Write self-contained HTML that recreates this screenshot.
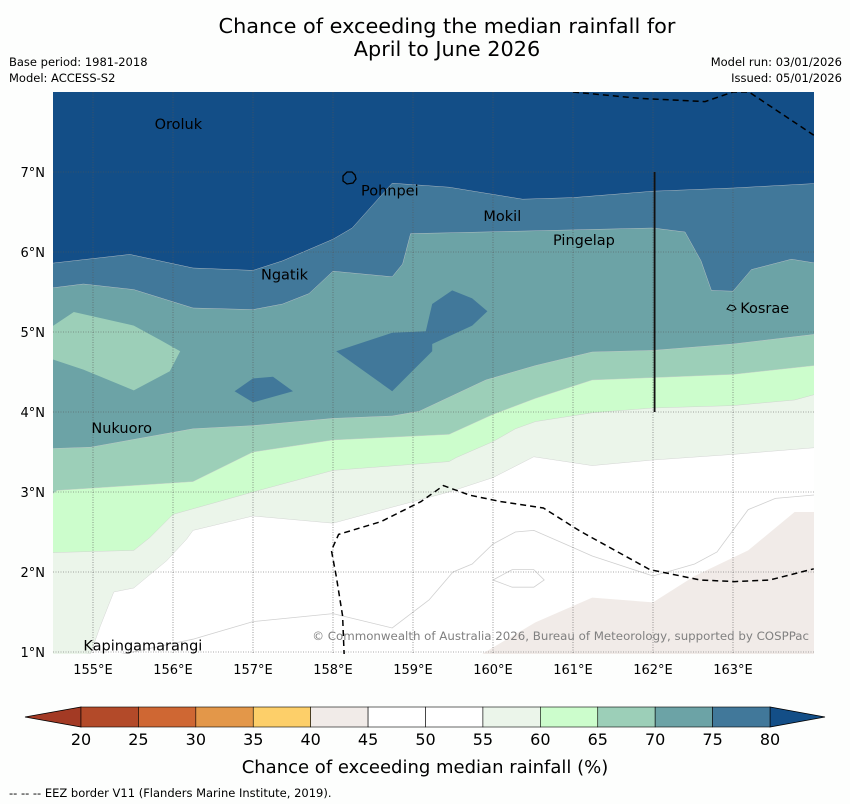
<!DOCTYPE html>
<html><head><meta charset="utf-8"><style>
body{margin:0;background:#fdfefd;}
svg{display:block;font-family:"DejaVu Sans","Liberation Sans",sans-serif;}
</style></head><body>
<svg id="chart" width="850" height="804" viewBox="0 0 850 804" xmlns="http://www.w3.org/2000/svg">
<rect width="850" height="804" fill="#fdfefd"/>
<text x="447" y="33" text-anchor="middle" font-size="20.8" fill="#000">Chance of exceeding the median rainfall for</text>
<text x="447" y="56" text-anchor="middle" font-size="20.8" fill="#000">April to June 2026</text>
<text x="9" y="66" font-size="11.5">Base period: 1981-2018</text>
<text x="9" y="82" font-size="11.5">Model: ACCESS-S2</text>
<text x="842" y="66" font-size="11.5" text-anchor="end">Model run: 03/01/2026</text>
<text x="842" y="82" font-size="11.5" text-anchor="end">Issued: 05/01/2026</text>
<defs><clipPath id="mapclip"><rect x="53" y="92" width="761" height="562"/></clipPath></defs>
<g id="map" clip-path="url(#mapclip)"></g>
<g id="axes"></g>
<g id="cbar"></g>
<text x="425" y="773" text-anchor="middle" font-size="18">Chance of exceeding median rainfall (%)</text>
<text x="9" y="797" font-size="11.5">--  --  -- EEZ border V11 (Flanders Marine Institute, 2019).</text>
</svg>
<script>
// ---- data ----
const lonTicks=[155,156,157,158,159,160,161,162,163];
const latTicks=[1,2,3,4,5,6,7];
const cbLevels=[20,25,30,35,40,45,50,55,60,65,70,75,80];
const cbColors=["#b34a29","#cf6733","#e39749","#fdcf69","#f1ebe8","#ffffff","#ffffff","#ebf5ea","#ccfdcc","#9ccfb8","#6ca3a6","#41789a"];
const lowColor="#a33a24", highColor="#134e87";
const b55=[[154.4,0.9],[154.97,0.98],[155.09,1.32],[155.26,1.75],[155.51,1.8],[155.92,2.14],[156.17,2.41],[156.25,2.52],[157.0,2.7],[158.0,2.61],[158.74,2.81],[159.45,3.0],[160.0,3.18],[160.51,3.44],[161.24,3.33],[162.0,3.4],[163.0,3.47],[164.1,3.56]];
const b60=[[154.4,2.24],[155.51,2.27],[155.71,2.43],[156.0,2.72],[157.0,3.0],[158.0,3.27],[159.45,3.38],[159.54,3.43],[160.0,3.63],[160.28,3.79],[160.53,3.88],[161.24,3.99],[162.0,4.05],[163.0,4.08],[163.77,4.15],[164.1,4.24]];
const b65=[[154.4,2.9],[154.55,3.02],[156.25,3.13],[157.0,3.5],[158.0,3.65],[159.45,3.72],[160.0,3.97],[160.53,4.17],[161.24,4.4],[162.0,4.43],[163.0,4.47],[164.1,4.59]];
const b70=[[154.4,3.54],[154.97,3.56],[156.25,3.79],[157.0,3.83],[158.0,3.92],[158.74,3.95],[159.08,4.01],[159.91,4.4],[160.53,4.58],[161.24,4.75],[162.0,4.77],[163.0,4.85],[164.1,4.98]];
const b75=[[154.4,5.54],[154.88,5.6],[155.51,5.53],[156.25,5.3],[157.0,5.28],[157.37,5.35],[157.7,5.48],[158.0,5.76],[158.74,5.69],[158.87,5.85],[158.97,6.23],[159.45,6.24],[162.0,6.3],[162.4,6.25],[162.6,5.89],[162.73,5.52],[163.0,5.51],[163.23,5.78],[163.73,5.91],[164.1,5.85]];
const b80=[[154.4,5.85],[155.46,5.97],[156.25,5.8],[157.0,5.77],[157.37,5.89],[158.0,6.16],[158.24,6.3],[158.74,6.86],[159.45,6.81],[160.37,6.66],[161.0,6.68],[162.0,6.76],[163.0,6.8],[164.1,6.86]];
const patch40=[[159.87,0.9],[159.87,0.98],[160.53,1.37],[161.24,1.68],[162.0,1.62],[162.52,1.95],[163.19,2.27],[163.77,2.75],[164.1,2.75],[164.1,0.9]];
const patch65=[[154.4,5.01],[154.76,5.25],[155.51,5.08],[155.84,4.9],[156.09,4.76],[155.96,4.51],[155.51,4.27],[154.88,4.53],[154.4,4.69]];
const patch75a=[[156.77,4.26],[157.0,4.42],[157.25,4.44],[157.5,4.26],[157.0,4.12]];
const patch75b=[[158.04,4.76],[158.74,4.99],[159.16,5.01],[159.24,5.35],[159.49,5.52],[159.74,5.42],[159.93,5.26],[159.74,5.08],[159.24,4.85],[159.24,4.76],[159.08,4.6],[158.74,4.26]];
const line50=[[155.0,0.9],[155.5,1.0],[156.25,1.16],[157.0,1.38],[158.0,1.48],[158.74,1.3],[159.2,1.65],[159.5,2.0],[159.74,2.1],[160.0,2.35],[160.28,2.5],[160.51,2.52],[160.9,2.35],[161.24,2.2],[162.0,1.95],[162.52,2.1],[162.8,2.25],[163.19,2.78],[163.53,2.92],[164.1,2.97]];
const oval50=[[160.0,1.9],[160.24,2.03],[160.51,2.03],[160.64,1.9],[160.51,1.81],[160.24,1.81]];
const eezSouth=[[158.14,0.95],[158.12,1.45],[158.04,1.95],[157.98,2.27],[158.07,2.47],[158.6,2.63],[159.1,2.88],[159.38,3.08],[159.71,2.96],[160.1,2.88],[160.63,2.8],[161.09,2.51],[161.96,2.03],[162.59,1.9],[163.02,1.88],[163.46,1.9],[164.01,2.04]];
const eezNorth=[[161.0,8.0],[161.84,7.92],[162.65,7.88],[163.0,8.0],[163.2,8.0],[164.01,7.46]];
const places=[["Oroluk",155.77,7.6],["Pohnpei",158.35,6.77],["Mokil",159.88,6.45],["Pingelap",160.75,6.15],["Ngatik",157.1,5.72],["Kosrae",163.09,5.3],["Nukuoro",154.98,3.8],["Kapingamarangi",154.88,1.08]];
// ---- axes ----
const X=lon=>93+(lon-155)*80, Y=lat=>172-(lat-7)*80;
const NS="http://www.w3.org/2000/svg";
function mk(tag,attrs,parent){const e=document.createElementNS(NS,tag);for(const k in attrs)e.setAttribute(k,attrs[k]);parent.appendChild(e);return e;}
const mapG=document.getElementById('map'), axesG=document.getElementById('axes'), cbarG=document.getElementById('cbar');
const pts=a=>a.map(p=>X(p[0]).toFixed(1)+","+Y(p[1]).toFixed(1)).join(" ");
const topEdge=[[164.1,8.2],[154.4,8.2]];
let r=mk('rect',{x:53,y:92,width:761,height:562,fill:"#ffffff"},mapG);


let p=mk('polygon',{points:pts(patch40),fill:cbColors[4]},mapG);


const bands=[[b55,7,'contour-55-60'],[b60,8,'contour-60-65'],[b65,9,'contour-65-70'],[b70,10,'contour-70-75'],[b75,11,'contour-75-80'],[b80,-1,'contour-above-80']];
bands.forEach(b=>{
  const e=mk('polygon',{points:pts(b[0].concat(topEdge)),fill:b[1]<0?highColor:cbColors[b[1]],stroke:"#ccc","stroke-width":0.4},mapG);
  
  
  if(b[2]==='contour-70-75'){
    const q=mk('polygon',{points:pts(patch65),fill:cbColors[9]},mapG);
    
    
    [patch75a,patch75b].forEach(pp=>{
      const s=mk('polygon',{points:pts(pp),fill:cbColors[11]},mapG);
      
      
    });
  }
});
let l=mk('polyline',{points:pts(line50),fill:"none",stroke:"#d0d0d0","stroke-width":0.8},mapG);


l=mk('polygon',{points:pts(oval50),fill:"none",stroke:"#d0d0d0","stroke-width":0.8},mapG);


lonTicks.forEach(v=>{
  const g=mk('line',{x1:X(v),x2:X(v),y1:92,y2:654,stroke:"#555","stroke-width":0.6,"stroke-dasharray":"1,1.5"},mapG);
  
  
  const t=mk('text',{x:X(v),y:674,"text-anchor":"middle","font-size":13},axesG);t.textContent=v+"°E";
  
  
});
latTicks.forEach(v=>{
  const g=mk('line',{x1:53,x2:814,y1:Y(v),y2:Y(v),stroke:"#555","stroke-width":0.6,"stroke-dasharray":"1,1.5"},mapG);
  
  
  const t=mk('text',{x:45,y:Y(v)+5,"text-anchor":"end","font-size":13},axesG);t.textContent=v+"°N";
  
  
});
[eezSouth,eezNorth].forEach(a=>{
  const e=mk('polyline',{points:pts(a),fill:"none",stroke:"#000","stroke-width":1.5,"stroke-dasharray":"6,4"},mapG);
  
  
});
let vl=mk('line',{x1:X(162.02),x2:X(162.02),y1:Y(7),y2:Y(4),stroke:"#111","stroke-width":1.8},mapG);


let isl=mk('path',{d:"M343,176 l4,-4 5,0 3,3 1,4 -3,4 -6,1 -4,-3z",fill:"none",stroke:"#000","stroke-width":1.3},mapG);


isl=mk('path',{d:"M727,309 l3,-4 4,1 2,3 -4,2z",fill:"none",stroke:"#000","stroke-width":1},mapG);


places.forEach(pl=>{
  const t=mk('text',{x:X(pl[1]),y:Y(pl[2])+5,"font-size":14.5,fill:"#000"},mapG);t.textContent=pl[0];
  
  
});
let cp=mk('text',{x:809,y:640,"text-anchor":"end","font-size":11.8,fill:"#808080"},mapG);
cp.textContent="© Commonwealth of Australia 2026, Bureau of Meteorology, supported by COSPPac";


const cx0=81,cx1=770,cy=707,ch=20,sw=(cx1-cx0)/cbColors.length;
let tri=mk('polygon',{points:`${cx0},${cy} ${cx0},${cy+ch} 25,${cy+ch/2}`,fill:lowColor,stroke:"#000","stroke-width":0.8},cbarG);


tri=mk('polygon',{points:`${cx1},${cy} ${cx1},${cy+ch} 825,${cy+ch/2}`,fill:highColor,stroke:"#000","stroke-width":0.8},cbarG);


cbColors.forEach((c,i)=>{
  const s=mk('rect',{x:cx0+i*sw,y:cy,width:sw,height:ch,fill:c,stroke:"#000","stroke-width":0.6},cbarG);
  
  
});
cbLevels.forEach((v,i)=>{
  const t=mk('text',{x:cx0+i*sw,y:745,"text-anchor":"middle","font-size":16},cbarG);t.textContent=v;
  
  
});
</script>
</body></html>
